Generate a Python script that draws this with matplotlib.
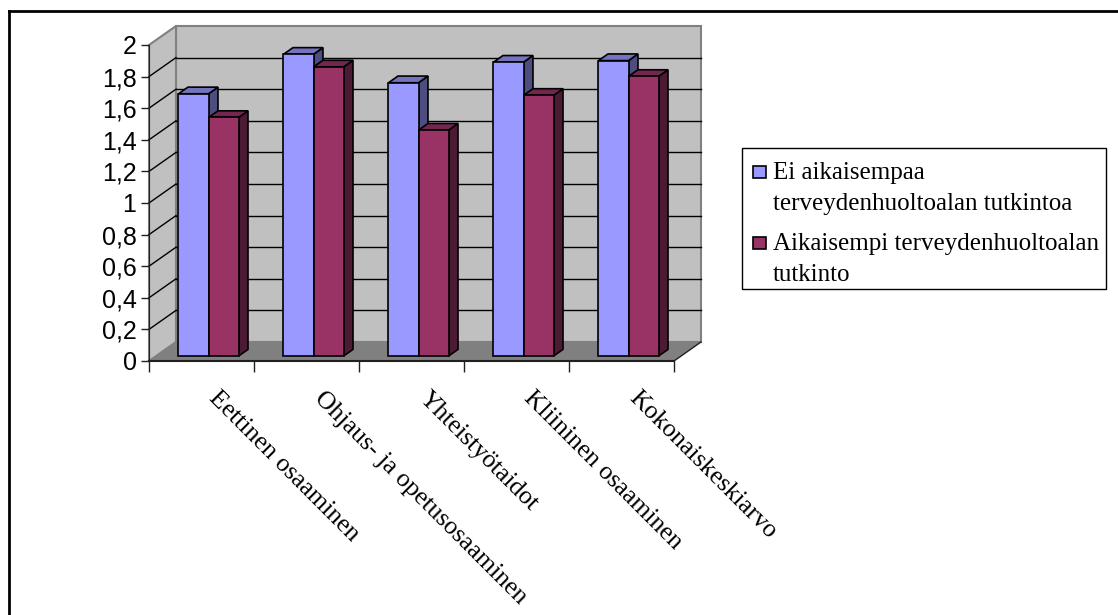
import numpy as np
import matplotlib.pyplot as plt
from matplotlib.patches import Polygon, Rectangle
from matplotlib.lines import Line2D
from matplotlib.transforms import IdentityTransform
from matplotlib.ticker import FuncFormatter

# Osaamisalueiden keskiarvot kahdessa ryhmässä
categories = ['Eettinen osaaminen', 'Ohjaus- ja opetusosaaminen', 'Yhteistyötaidot',
              'Kliininen osaaminen', 'Kokonaiskeskiarvo']
series_names = [['Ei aikaisempaa', 'terveydenhuoltoalan tutkintoa'],
                ['Aikaisempi terveydenhuoltoalan', 'tutkinto']]
ei_aiempaa = [1.66, 1.91, 1.73, 1.86, 1.87]
aiempi = [1.51, 1.83, 1.43, 1.65, 1.77]
yticks = [0, 0.2, 0.4, 0.6, 0.8, 1.0, 1.2, 1.4, 1.6, 1.8, 2.0]

W, H = 1118, 615
fig = plt.figure(figsize=(W / 100, H / 100), dpi=100)
fig.patch.set_facecolor('white')

# front plane of the 3d box
ax = fig.add_axes([149 / W, 1 - 361 / H, 525 / W, 316 / H])
ax.set_xlim(-0.5, len(categories) - 0.5)
ax.set_ylim(0, 2)
ax.patch.set_visible(False)

DX, DY = 27, 19  # depth offset of the back wall in pixels


def proj(x, y, d):
    px, py = ax.transData.transform((x, y))
    return (px + DX * d, py + DY * d)


def face(pts, z=1, **kw):
    p = Polygon([proj(*q) for q in pts], closed=True, transform=IdentityTransform(),
                clip_on=False, zorder=z, **kw)
    ax.add_patch(p)


def seg(a, b, z=1.2, **kw):
    (x0, y0), (x1, y1) = proj(*a), proj(*b)
    ax.add_line(Line2D([x0, x1], [y0, y1], transform=IdentityTransform(),
                       clip_on=False, zorder=z, **kw))


xl, xr = ax.get_xlim()
ymax = yticks[-1]

# walls and floor
face([(xl, 0, 1), (xr, 0, 1), (xr, ymax, 1), (xl, ymax, 1)], fc='#C0C0C0', ec='#808080', lw=1.5)
face([(xl, 0, 0), (xl, 0, 1), (xl, ymax, 1), (xl, ymax, 0)], fc='#C0C0C0', ec='#808080', lw=1.5)
face([(xl, 0, 0), (xr, 0, 0), (xr, 0, 1), (xl, 0, 1)], fc='#808080', ec='none')
seg((xr, 0, 0), (xr, 0, 1), color='#202020', lw=1)

for v in yticks[1:-1]:
    seg((xl, v, 1), (xr, v, 1), color='black', lw=1)
    seg((xl, v, 0), (xl, v, 1), color='black', lw=1)

# bars
w = 0.286
d0, d1 = 0.26, 0.61
styles = [('#9999FF', '#7373BF', '#4D4D80'), ('#993366', '#732650', '#4D1A33')]
for i in range(len(categories)):
    for s, vals in enumerate([ei_aiempaa, aiempi]):
        v = vals[i]
        x0 = i - w + s * w
        x1 = x0 + w
        front, top, side = styles[s]
        kw = dict(ec='black', lw=1.2, z=2)
        face([(x1, 0, d0), (x1, 0, d1), (x1, v, d1), (x1, v, d0)], fc=side, **kw)
        face([(x0, v, d0), (x1, v, d0), (x1, v, d1), (x0, v, d1)], fc=top, **kw)
        face([(x0, 0, d0), (x1, 0, d0), (x1, v, d0), (x0, v, d0)], fc=front, **kw)

# axes
for sp in ['top', 'right']:
    ax.spines[sp].set_visible(False)
ax.spines['left'].set_color('#202020')
ax.spines['bottom'].set_color('#202020')
ax.spines['bottom'].set_linewidth(1.5)
ax.set_yticks(yticks)
ax.yaxis.set_major_formatter(FuncFormatter(lambda v, p: f'{v:g}'.replace('.', ',')))
ax.tick_params(axis='y', direction='out', length=6, width=1, pad=3, labelsize=18,
               color='#202020')
for t in ax.get_yticklabels():
    t.set_fontfamily('Liberation Sans')
ax.set_xticks(np.arange(xl, xr + 0.01, 1))
ax.tick_params(axis='x', direction='out', length=8, width=1, labelbottom=False,
               color='#202020')

for i, cat in enumerate(categories):
    ax.annotate(cat, xy=(i, 0), xycoords='data', xytext=(19, -26), textcoords='offset pixels',
                rotation=-45, rotation_mode='anchor', ha='left', va='top',
                fontfamily='Liberation Serif', fontsize=18.5, annotation_clip=False)

# legend
fig.add_artist(Rectangle((742, H - 289), 364, 141, transform=IdentityTransform(),
                         fc='white', ec='black', lw=1))
for s, lines in enumerate(series_names):
    base = 179 + s * 71
    fig.add_artist(Rectangle((753, H - base + 1), 13, 12, transform=IdentityTransform(),
                             fc=styles[s][0], ec='black', lw=1.2))
    for k, line in enumerate(lines):
        fig.text(773 / W, 1 - (base + k * 31) / H, line, ha='left', va='baseline',
                 fontfamily='Liberation Serif', fontsize=18)

# chart area frame
fig.add_artist(Line2D([9, W], [H - 11, H - 11], transform=IdentityTransform(), color='black', lw=2))
fig.add_artist(Line2D([9, 9], [H - 11, 0], transform=IdentityTransform(), color='black', lw=2))

fig.savefig('out.png', dpi=100, facecolor='white')
